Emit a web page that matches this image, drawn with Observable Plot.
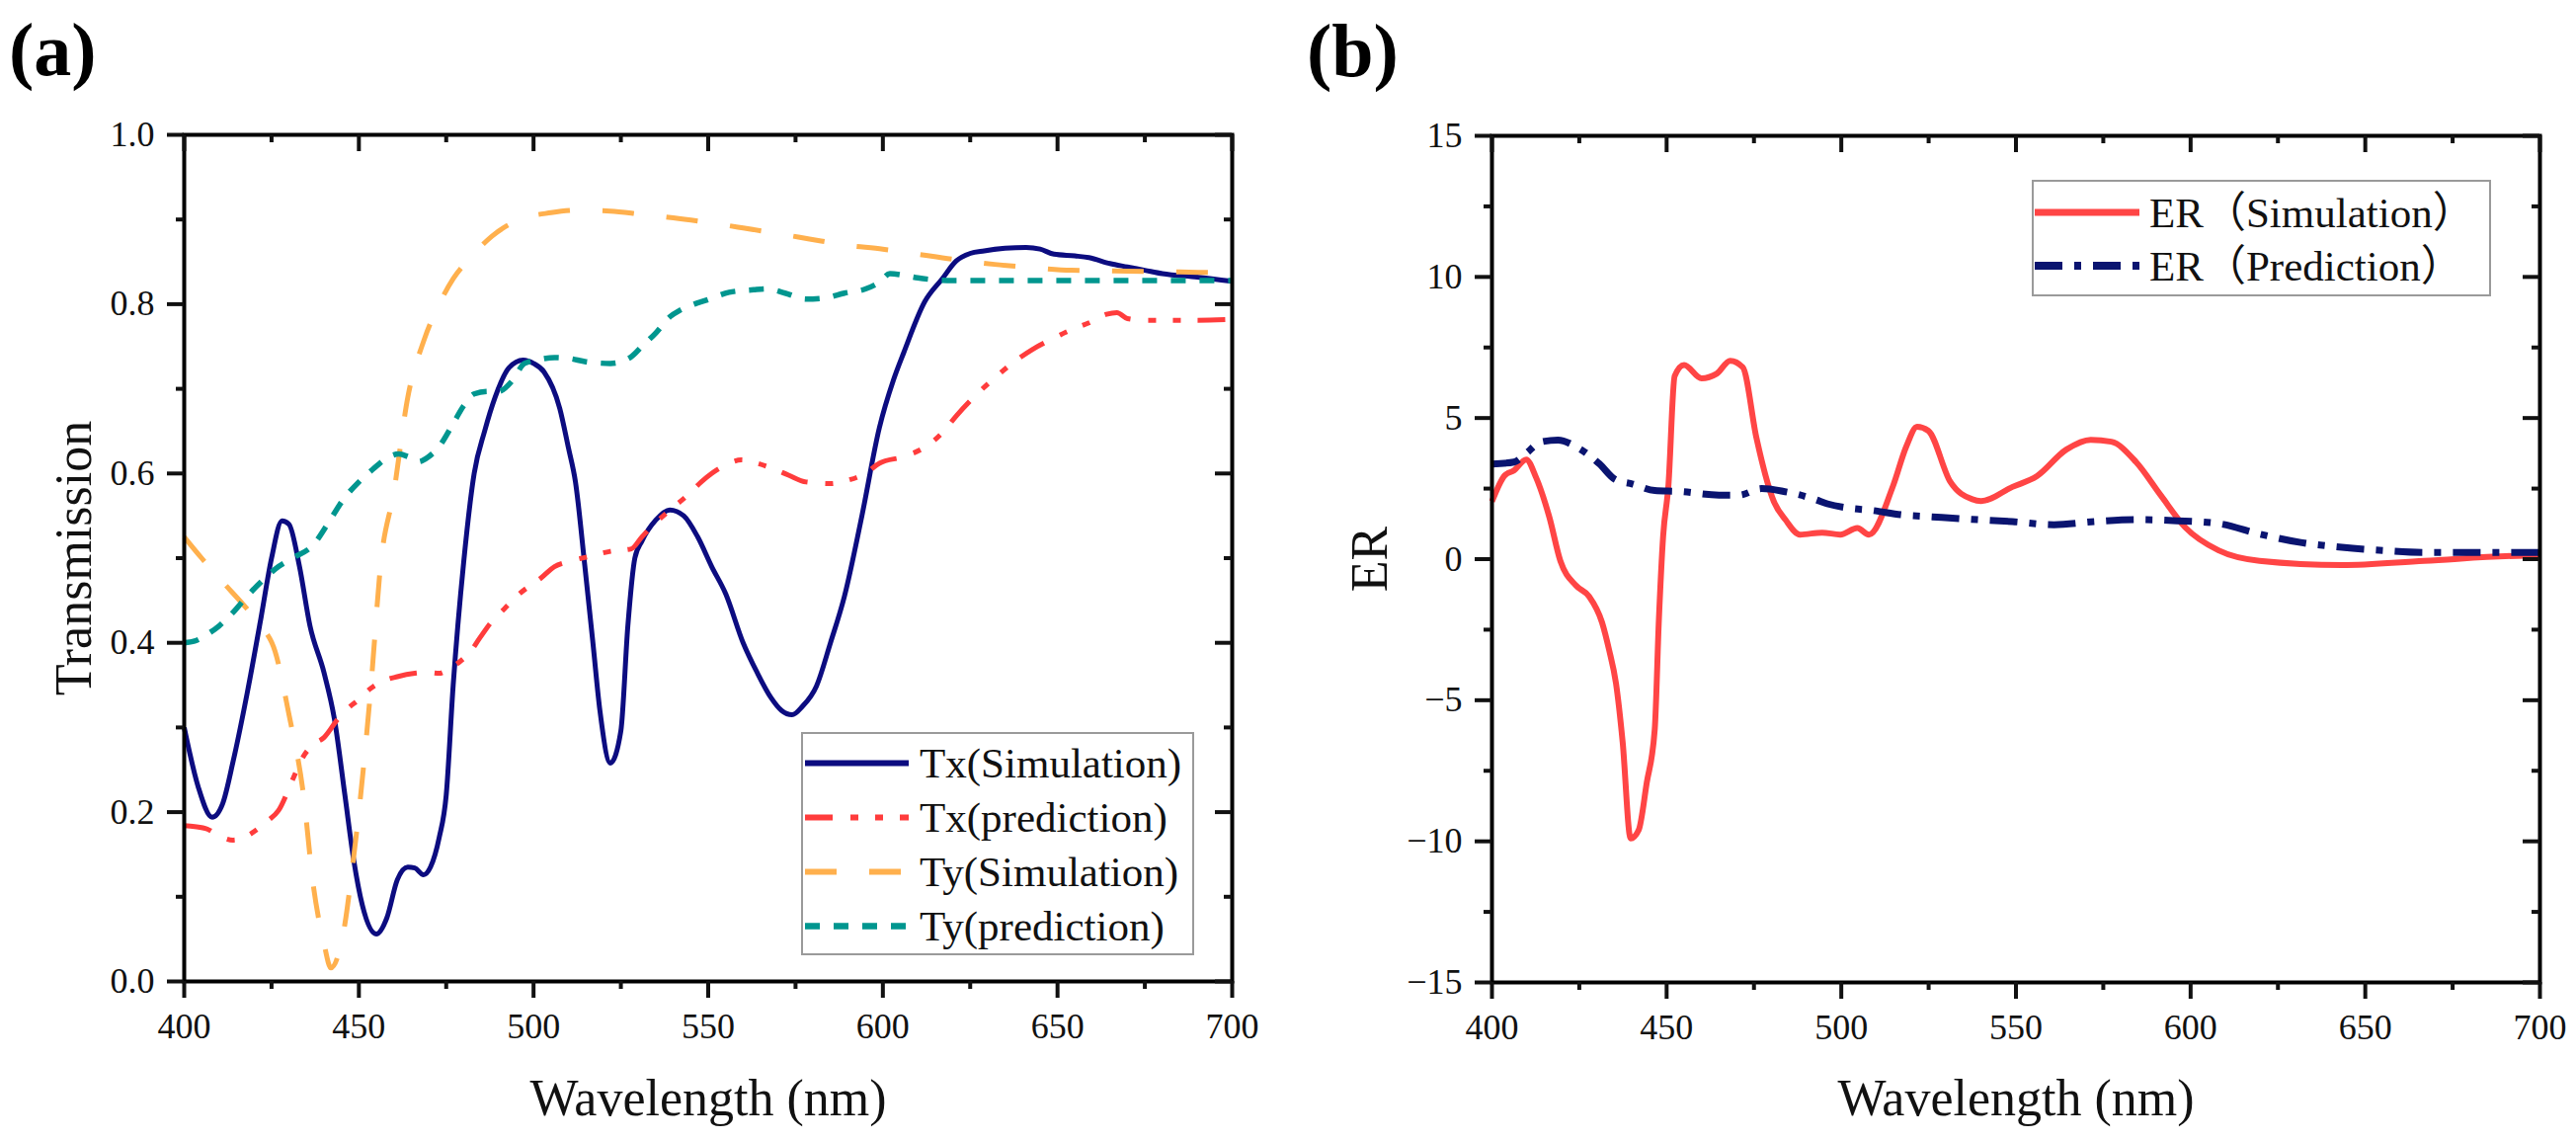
<!DOCTYPE html>
<html><head><meta charset="utf-8">
<script src="https://cdn.jsdelivr.net/npm/d3@7"></script>
<script src="https://cdn.jsdelivr.net/npm/@observablehq/plot@0.6"></script>
<style>
body{margin:0;background:#fff;}
#wrap{position:relative;width:2608px;height:1154px;overflow:hidden;}
.panel{position:absolute;top:0;width:1304px;height:1154px;}
.tag{position:absolute;font-family:"Liberation Serif";font-weight:bold;font-size:76px;line-height:1;}
.legend{position:absolute;border:2px solid #9a9a9a;background:#fff;box-sizing:border-box;font-family:"Liberation Serif","Noto Sans CJK SC";font-size:43px;color:#111;}
.row{display:flex;align-items:center;}
.row svg{display:block;flex:none;}
.row span{white-space:nowrap;line-height:1;}
</style></head><body>
<div id="wrap"></div>
<script>
// ---------- data: panel (a) ----------
const txSimWl = [400,404,408,411,414,418,422,425,428,430,433,436,440,443,446,448.5,451,455,458,461,464,466,468.5,470.5,473,475,477,480,483,486,489,493,497,500,503,507.5,510,512,514.7,517,519,522,525,527,529,531,535,539,543,547,551,555,560,564,568,571,574,577,581,585,589,594,599,603,606,612,617,621,625,629,635,641,645,649,655,659,665,670,675,680,690,700];
const txSimT  = [0.30,0.23,0.194,0.21,0.26,0.34,0.43,0.50,0.544,0.54,0.49,0.42,0.365,0.31,0.22,0.144,0.09,0.056,0.075,0.12,0.135,0.134,0.126,0.135,0.17,0.22,0.35,0.495,0.60,0.65,0.69,0.725,0.734,0.73,0.72,0.677,0.63,0.59,0.49,0.40,0.32,0.258,0.296,0.42,0.50,0.52,0.545,0.557,0.55,0.525,0.49,0.458,0.40,0.365,0.335,0.32,0.315,0.325,0.349,0.40,0.455,0.55,0.654,0.71,0.743,0.803,0.83,0.851,0.86,0.863,0.866,0.867,0.865,0.859,0.857,0.855,0.848,0.844,0.84,0.836,0.832,0.827];

const txPredWl = [400,403,406.6,410,414,418,421,424,427,431,434,437,440,444,447,450,453,457,461,466,470,473,476,479,482,484.5,488,491.6,496,502,506,510,515,522,528,531,535,540,544,548,551,555,559.5,564,569,573,578,585,590,595,599,606,612,617,621,626,632,637,643,648,653.5,659,664,667,670,675,680,690,700];
const txPredT  = [0.184,0.183,0.18,0.172,0.167,0.172,0.18,0.19,0.202,0.238,0.265,0.28,0.288,0.31,0.323,0.333,0.345,0.355,0.36,0.364,0.365,0.364,0.37,0.378,0.39,0.405,0.425,0.44,0.458,0.476,0.49,0.496,0.501,0.508,0.511,0.525,0.542,0.56,0.574,0.59,0.60,0.61,0.616,0.612,0.605,0.598,0.59,0.588,0.592,0.60,0.612,0.62,0.631,0.648,0.668,0.69,0.713,0.73,0.747,0.758,0.769,0.778,0.788,0.79,0.783,0.781,0.781,0.781,0.782];

const tySimWl = [400,405,411,418,422,426,430,434,437,440,442,444,446,448,450,453.4,456.3,460,464,468.6,473,477,482,488,496,505,513,522,531,540,549,560,569,579,589,600,610,620,632,643,654,670,685,700];
const tySimT  = [0.525,0.50,0.472,0.44,0.42,0.39,0.315,0.225,0.112,0.045,0.016,0.03,0.068,0.13,0.20,0.346,0.495,0.578,0.69,0.757,0.80,0.83,0.855,0.88,0.90,0.908,0.911,0.91,0.906,0.902,0.897,0.89,0.884,0.877,0.87,0.865,0.859,0.853,0.847,0.843,0.84,0.839,0.838,0.837];

const tyPredWl = [400,403,406.6,410,414,418,422,427,431,437,441,445.5,450,454,458,461.4,464,467,470,473,477,480,483,487,490,494,497.4,502,506,510,515,522,527.7,531,535,539,542,546,549,556,563,567,572,578,583,589,595,599,602,606,610,620,640,660,680,700];
const tyPredT  = [0.40,0.402,0.41,0.42,0.436,0.455,0.472,0.49,0.50,0.516,0.54,0.569,0.59,0.605,0.618,0.623,0.62,0.614,0.62,0.632,0.659,0.68,0.694,0.697,0.697,0.71,0.73,0.735,0.737,0.736,0.732,0.73,0.737,0.75,0.766,0.785,0.793,0.80,0.804,0.814,0.817,0.818,0.813,0.806,0.807,0.813,0.818,0.826,0.836,0.834,0.831,0.828,0.828,0.828,0.828,0.828];

// ---------- data: panel (b) ----------
const erSimWl = [400,403.7,406.3,409.8,412.6,416.4,419.6,424,427.8,431.5,433.5,435.5,437.4,439.7,442,444.3,446.6,447.8,449,450.5,452.3,455,460,464.3,468.2,471.8,475.7,480.7,484,488.2,494.5,499.7,504.6,507.9,514.8,518.6,521.7,524.9,531.2,537.5,540,549,556,564.4,571.4,577.3,584.4,591.4,598.5,608,619.7,643.3,666.9,696.3,700];
const erSimV  = [2.04,2.97,3.14,3.53,2.9,1.5,-0.07,-0.93,-1.32,-2.24,-3.2,-4.4,-6.47,-9.9,-9.6,-7.93,-6.03,-2.1,0.81,2.59,6.49,6.88,6.41,6.57,7.03,6.8,4.3,2.04,1.4,0.87,0.94,0.87,1.1,0.87,2.59,3.99,4.69,4.55,2.74,2.12,2.06,2.56,2.94,3.88,4.23,4.16,3.44,2.27,1.12,0.31,-0.06,-0.21,-0.06,0.12,0.12];

const erPredWl = [400,406.3,409.8,413.9,418.9,424,430.8,435.3,440.3,446.6,453.4,465,470.7,477.2,483.5,492.4,496,502.2,508.6,517.3,526,537.5,549,560.9,572.6,584.4,596.1,608,619.7,631.5,643.3,655,666.9,680,700];
const erPredV  = [3.37,3.44,3.75,4.15,4.22,3.99,3.37,2.82,2.66,2.43,2.4,2.27,2.27,2.5,2.4,2.12,1.96,1.81,1.73,1.57,1.5,1.41,1.33,1.22,1.33,1.4,1.36,1.26,0.89,0.59,0.42,0.31,0.24,0.24,0.24];

// ---------- ticks ----------
const xMajor = [400,450,500,550,600,650,700];
const xMinor = [425,475,525,575,625,675];
const tMajor = [0,0.2,0.4,0.6,0.8,1.0];
const tMinor = [0.1,0.3,0.5,0.7,0.9];
const erMajor = [-15,-10,-5,0,5,10,15];
const erMinor = [-12.5,-7.5,-2.5,2.5,7.5,12.5];

// ---------- labels ----------
const seriesA = [
  {name:"Tx(Simulation)", x:txSimWl, y:txSimT, color:"#0c0c80", width:5, dash:null},
  {name:"Tx(prediction)", x:txPredWl, y:txPredT, color:"#ff3c3c", width:5, dash:"28,18,8,17,8,17"},
  {name:"Ty(Simulation)", x:tySimWl, y:tySimT, color:"#ffb04d", width:5, dash:"32,33"},
  {name:"Ty(prediction)", x:tyPredWl, y:tyPredT, color:"#00968f", width:5.5, dash:"15,14"}
];
const seriesB = [
  {name:"ER（Simulation）", x:erSimWl, y:erSimV, color:"#ff4545", width:6, dash:null},
  {name:"ER（Prediction）", x:erPredWl, y:erPredV, color:"#0a1470", width:7, dash:"28,12,7,12"}
];

const W = 1304, H = 1154;
const FONT = "Liberation Serif";

function makePanel(cfg) {
  const fw = W - cfg.ml - cfg.mr, fh = H - cfg.mt - cfg.mb;
  const marks = [];
  for (const s of cfg.series) {
    const data = s.x.map((x, i) => ({x, y: s.y[i]}));
    marks.push(Plot.line(data, {x:"x", y:"y", stroke:s.color, strokeWidth:s.width,
      strokeDasharray:s.dash, curve:"monotone-x", strokeLinecap:"butt", strokeLinejoin:"round"}));
  }
  marks.push(Plot.frame({stroke:"black", strokeWidth:4}));
  marks.push(Plot.axisX(xMajor, {anchor:"bottom", tickSize:17, tickPadding:15, strokeWidth:4,
    fontSize:36, tickFormat:d => String(d), label:null}));
  marks.push(Plot.axisX(xMinor, {anchor:"bottom", tickSize:8, strokeWidth:4, tickFormat:() => "", label:null}));
  marks.push(Plot.axisY(cfg.yMajor, {anchor:"left", tickSize:17, tickPadding:13, strokeWidth:4,
    fontSize:36, tickFormat:cfg.yFormat, label:null}));
  marks.push(Plot.axisY(cfg.yMinor, {anchor:"left", tickSize:8, strokeWidth:4, tickFormat:() => "", label:null}));
  // inward ticks on top and right edges
  marks.push(Plot.ruleX(xMajor, {x:d => d, insetBottom: fh - 17, strokeWidth:4}));
  marks.push(Plot.ruleX(xMinor, {x:d => d, insetBottom: fh - 8, strokeWidth:4}));
  marks.push(Plot.ruleY(cfg.yMajor, {y:d => d, insetLeft: fw - 17, strokeWidth:4}));
  marks.push(Plot.ruleY(cfg.yMinor, {y:d => d, insetLeft: fw - 8, strokeWidth:4}));
  // axis titles
  marks.push(Plot.text(["Wavelength (nm)"], {frameAnchor:"bottom", dy: 1128 - (H - cfg.mb) - 0.71*52, lineAnchor:"top",
    fontSize:52, fill:"#111"}));
  marks.push(Plot.text([cfg.ylabel], {frameAnchor:"left", rotate:-90, dx: cfg.ylabelDx, textAnchor:"middle",
    lineAnchor:"middle", fontSize:52, fill:"#111"}));
  return Plot.plot({
    width: W, height: H,
    marginLeft: cfg.ml, marginRight: cfg.mr, marginTop: cfg.mt, marginBottom: cfg.mb,
    x: {domain:[400,700]},
    y: {domain: cfg.yDomain},
    style: {fontFamily: FONT, color:"#111", background:"white", overflow:"visible"},
    marks
  });
}

function makeLegend(series, box) {
  const div = document.createElement("div");
  div.className = "legend";
  Object.assign(div.style, {left: box.left+"px", top: box.top+"px", width: box.width+"px", height: box.height+"px",
    paddingTop: box.pt+"px", paddingLeft: box.pl+"px"});
  for (const s of series) {
    const row = document.createElement("div");
    row.className = "row";
    row.style.height = box.rowH + "px";
    const ns = "http://www.w3.org/2000/svg";
    const svg = document.createElementNS(ns, "svg");
    svg.setAttribute("width", box.sw); svg.setAttribute("height", box.rowH);
    const ln = document.createElementNS(ns, "line");
    ln.setAttribute("x1", 0); ln.setAttribute("x2", box.sw);
    ln.setAttribute("y1", box.rowH/2); ln.setAttribute("y2", box.rowH/2);
    ln.setAttribute("stroke", s.color); ln.setAttribute("stroke-width", s.width + 1);
    if (s.dash) ln.setAttribute("stroke-dasharray", s.dash);
    svg.appendChild(ln);
    const sp = document.createElement("span");
    sp.textContent = s.name;
    sp.style.marginLeft = box.gap + "px";
    row.appendChild(svg); row.appendChild(sp);
    div.appendChild(row);
  }
  return div;
}

const wrap = document.getElementById("wrap");

const pA = document.createElement("div"); pA.className = "panel"; pA.style.left = "0px";
pA.appendChild(makePanel({series:seriesA, ml:186, mr:57, mt:136, mb:161, yDomain:[0,1],
  yMajor:tMajor, yMinor:tMinor, yFormat:d3.format(".1f"), ylabel:"Transmission", ylabelDx: 75 - 186}));
wrap.appendChild(pA);

const pB = document.createElement("div"); pB.className = "panel"; pB.style.left = "1304px";
pB.appendChild(makePanel({series:seriesB, ml:206, mr:37, mt:137, mb:160, yDomain:[-15,15],
  yMajor:erMajor, yMinor:erMinor, yFormat:d => d < 0 ? "\u2212" + Math.abs(d) : String(d), ylabel:"ER", ylabelDx: 1387 - 1510}));
wrap.appendChild(pB);

const tagA = document.createElement("div"); tagA.className = "tag"; tagA.textContent = "(a)";
Object.assign(tagA.style, {left:"9px", top:"12px"}); wrap.appendChild(tagA);
const tagB = document.createElement("div"); tagB.className = "tag"; tagB.textContent = "(b)";
Object.assign(tagB.style, {left:"1323px", top:"13px"}); wrap.appendChild(tagB);

wrap.appendChild(makeLegend(seriesA, {left:811, top:741, width:398, height:226, pt:2, pl:2, rowH:55, sw:105, gap:11}));
wrap.appendChild(makeLegend(seriesB, {left:2057, top:182, width:465, height:118, pt:4, pl:1, rowH:54, sw:106, gap:10}));
</script>
</body></html>
